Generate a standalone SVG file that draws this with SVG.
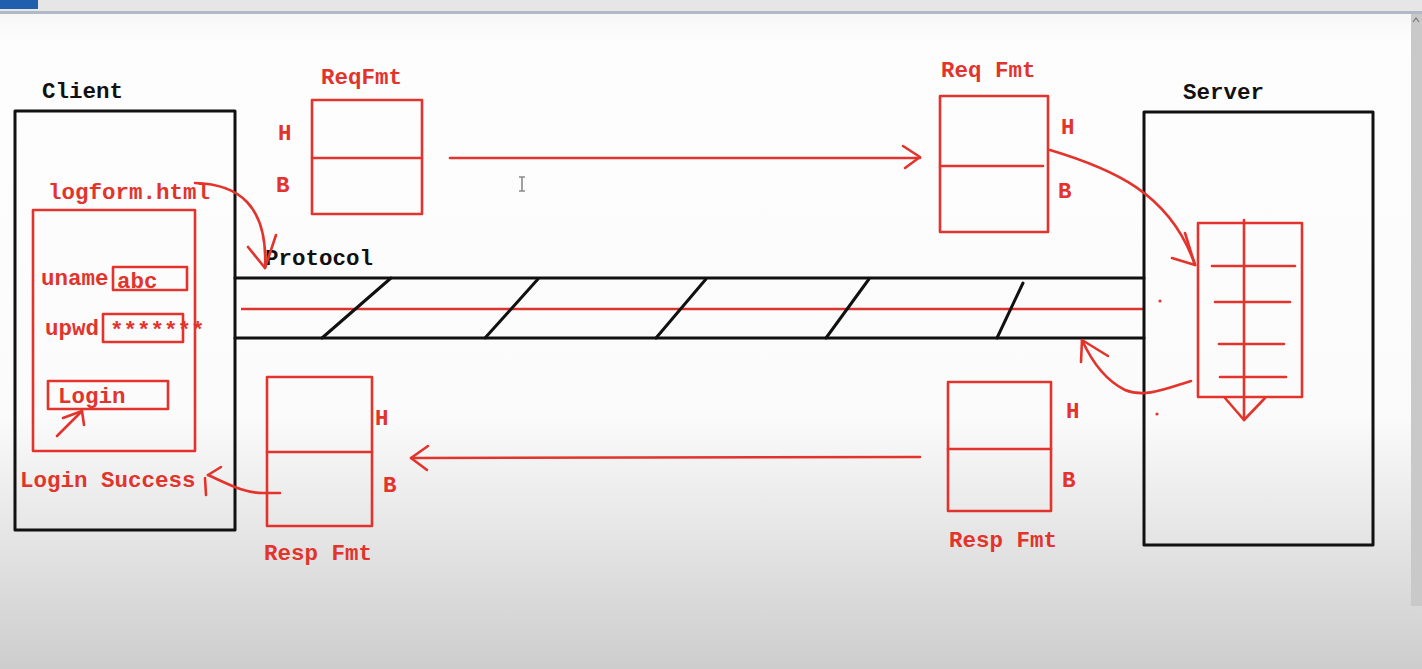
<svg xmlns="http://www.w3.org/2000/svg" width="1422" height="669" viewBox="0 0 1422 669">
<defs>
<linearGradient id="bg" x1="0" y1="0" x2="0" y2="1">
<stop offset="0" stop-color="#f3f3f3"/>
<stop offset="0.06" stop-color="#fdfdfd"/>
<stop offset="0.62" stop-color="#fbfbfb"/>
<stop offset="1" stop-color="#cdcdcd"/>
</linearGradient>
<style>
.blk{fill:none;stroke:#111;stroke-width:3;stroke-linecap:round;stroke-linejoin:round}
.red{fill:none;stroke:#e2342c;stroke-width:2.6;stroke-linecap:round;stroke-linejoin:round}
.rt{fill:#e2342c;font-family:"Liberation Mono","DejaVu Sans Mono",monospace;font-weight:bold;font-size:22.5px}
.bt{fill:#111;font-family:"Liberation Mono","DejaVu Sans Mono",monospace;font-weight:bold;font-size:22.5px}
</style>
</defs>
<rect x="0" y="0" width="1422" height="669" fill="url(#bg)"/>
<rect x="0" y="0" width="1422" height="11" fill="#e6e6e6"/>
<rect x="0" y="0" width="38" height="9" fill="#1f5fae"/>
<rect x="0" y="11" width="1422" height="3" fill="#b2b9c6"/>
<rect x="1411" y="14" width="11" height="592" fill="#c9c9c9"/>
<path d="M1413,22 L1416,18 L1419,22" fill="none" stroke="#777" stroke-width="1.2"/>
<path d="M519,177 h6 M522,177 v14 M519,191 h6" fill="none" stroke="#8a8a8a" stroke-width="1.6"/>

<g id="client">
<rect class="blk" x="15" y="111" width="220" height="419"/>
<text class="bt" x="42" y="98">Client</text>
<text class="rt" x="20" y="487">Login Success</text>
</g>

<g id="logform">
<text class="rt" x="48" y="199">logform.html</text>
<rect class="red" x="33" y="210" width="162" height="241"/>
<text class="rt" x="41" y="285">uname</text>
<rect class="red" x="113" y="267" width="74" height="23"/>
<text class="rt" x="117" y="288">abc</text>
<text class="rt" x="45" y="335">upwd</text>
<rect class="red" x="103" y="314" width="80" height="28"/>
<text class="rt" x="110" y="337">*******</text>
<rect class="red" x="48" y="381" width="120" height="28"/>
<text class="rt" x="58" y="403">Login</text>
</g>

<g id="reqfmt-left">
<text class="rt" x="321" y="84">ReqFmt</text>
<rect class="red" x="312" y="100" width="110" height="114"/>
<line class="red" x1="312" y1="158" x2="422" y2="158"/>
<text class="rt" x="278" y="140">H</text>
<text class="rt" x="276" y="192">B</text>
</g>

<g id="reqfmt-right">
<text class="rt" x="941" y="77">Req Fmt</text>
<rect class="red" x="940" y="96" width="108" height="136"/>
<line class="red" x1="940" y1="166" x2="1043" y2="166"/>
<text class="rt" x="1061" y="134">H</text>
<text class="rt" x="1058" y="198">B</text>
</g>

<g id="protocol">
<text class="bt" x="265" y="265">Protocol</text>
<line class="blk" x1="235" y1="278" x2="1144" y2="278"/>
<line class="blk" x1="235" y1="338" x2="1144" y2="338"/>
<line x1="241" y1="309" x2="1143" y2="309" stroke="#d9362e" stroke-width="2.6"/>
<line class="blk" x1="391" y1="278" x2="322" y2="338"/>
<line class="blk" x1="538" y1="279" x2="485" y2="338"/>
<line class="blk" x1="706" y1="279" x2="656" y2="338"/>
<line class="blk" x1="869" y1="279" x2="826" y2="338"/>
<line class="blk" x1="1023" y1="283" x2="997" y2="338"/>
</g>

<g id="server">
<text class="bt" x="1183" y="99">Server</text>
<rect class="blk" x="1144" y="112" width="229" height="433"/>
<rect class="red" x="1198" y="223" width="104" height="174"/>
<line class="red" x1="1244" y1="220" x2="1244" y2="420"/>
<path class="red" d="M1225,398 L1244,420 L1265,398"/>
<line class="red" x1="1212" y1="266" x2="1295" y2="266"/>
<line class="red" x1="1215" y1="302" x2="1290" y2="302"/>
<line class="red" x1="1219" y1="344" x2="1284" y2="344"/>
<line class="red" x1="1220" y1="377" x2="1286" y2="377"/>
<circle cx="1160" cy="301" r="1.6" fill="#e2342c"/>
<circle cx="1157" cy="414" r="1.6" fill="#e2342c"/>
</g>

<g id="respfmt-left">
<rect class="red" x="267" y="377" width="105" height="149"/>
<line class="red" x1="267" y1="452" x2="372" y2="452"/>
<text class="rt" x="375" y="425">H</text>
<text class="rt" x="383" y="492">B</text>
<text class="rt" x="264" y="560">Resp Fmt</text>
</g>

<g id="respfmt-right">
<rect class="red" x="948" y="382" width="103" height="129"/>
<line class="red" x1="948" y1="449" x2="1051" y2="449"/>
<text class="rt" x="1066" y="418">H</text>
<text class="rt" x="1062" y="487">B</text>
<text class="rt" x="949" y="547">Resp Fmt</text>
</g>

<g id="connectors">
<path class="red" d="M195,183 C238,184 268,205 265,268"/>
<path class="red" d="M248,247 L265,268 L276,235"/>
<path class="red" d="M57,436 L82,411"/>
<path class="red" d="M63,418 L82,411 L84,425"/>
<line class="red" x1="450" y1="158" x2="920" y2="158"/>
<path class="red" d="M903,146 L920,157 L905,168"/>
<path class="red" d="M1050,150 C1110,168 1170,192 1195,265"/>
<path class="red" d="M1185,233 L1195,265 L1172,258"/>
<path class="red" d="M1191,381 C1165,389 1145,398 1125,390 C1105,380 1092,362 1082,340"/>
<path class="red" d="M1108,356 L1082,340 L1081,362"/>
<line class="red" x1="920" y1="457" x2="411" y2="458"/>
<path class="red" d="M428,446 L411,458 L427,470"/>
<path class="red" d="M280,493 L266,493 C245,494 228,484 208,475"/>
<path class="red" d="M221,467 L208,475"/>
<line class="red" x1="205" y1="478" x2="206" y2="495"/>
</g>
</svg>
